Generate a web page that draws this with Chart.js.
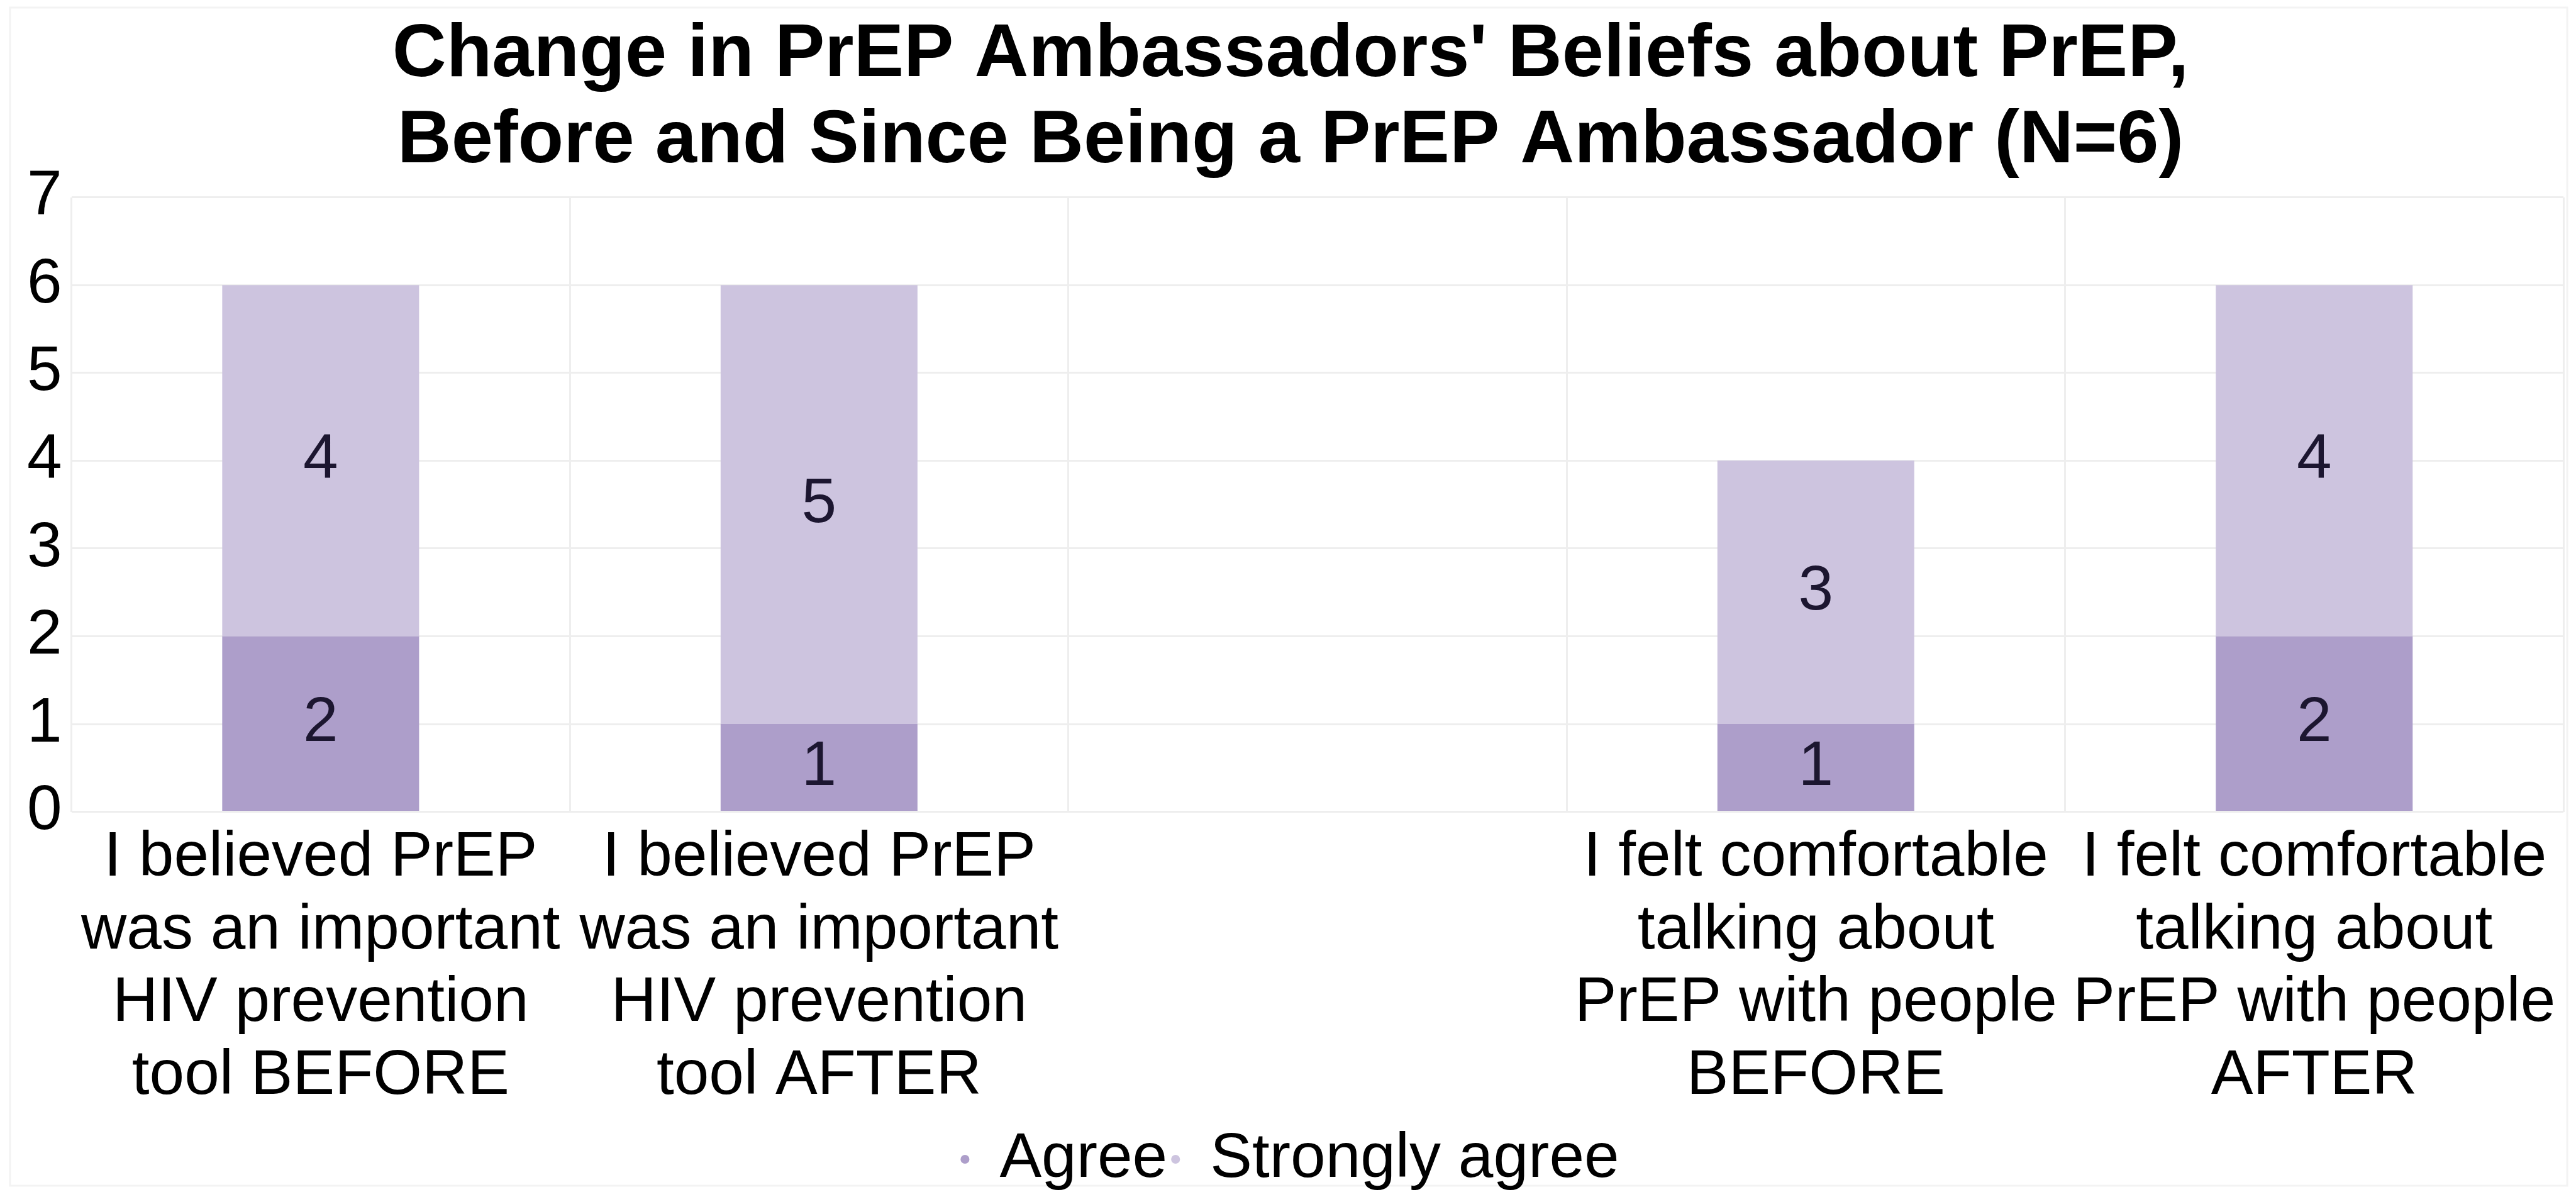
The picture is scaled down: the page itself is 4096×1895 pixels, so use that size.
<!DOCTYPE html>
<html>
<head>
<meta charset="utf-8">
<script src="https://cdn.jsdelivr.net/npm/chart.js@4.4.1/dist/chart.umd.min.js"></script>
<style>
  html, body { margin: 0; padding: 0; background: #ffffff; }
  #wrap { width: 4096px; height: 1895px; position: relative; }
</style>
</head>
<body>
<div id="wrap"><canvas id="chart"></canvas></div>
<script>
// Survey items (one empty slot separates the two statements)
const categories = [
  ["I believed PrEP", "was an important", "HIV prevention", "tool BEFORE"],
  ["I believed PrEP", "was an important", "HIV prevention", "tool AFTER"],
  "",
  ["I felt comfortable", "talking about", "PrEP with people", "BEFORE"],
  ["I felt comfortable", "talking about", "PrEP with people", "AFTER"]
];
const seriesNames = ["Agree", "Strongly agree"];
const agreeCounts = [2, 1, null, 1, 2];
const stronglyAgreeCounts = [4, 5, null, 3, 4];
const yTicks = [0, 1, 2, 3, 4, 5, 6, 7];

const FONT = '"Liberation Sans", Arial, Helvetica, sans-serif';

// white page with a faint outer frame
const backdrop = {
  id: 'backdrop',
  beforeDraw(chart) {
    const { ctx, width, height } = chart;
    ctx.save();
    ctx.fillStyle = '#ffffff';
    ctx.fillRect(0, 0, width, height);
    ctx.strokeStyle = '#f3f3f3';
    ctx.lineWidth = 3;
    ctx.strokeRect(16, 12, width - 30, height - 22);
    ctx.restore();
  }
};

// count printed in the middle of each stacked segment
const segmentLabels = {
  id: 'segmentLabels',
  afterDatasetsDraw(chart) {
    const { ctx } = chart;
    ctx.save();
    ctx.font = '100px ' + FONT;
    ctx.fillStyle = '#1c1630';
    ctx.textAlign = 'center';
    ctx.textBaseline = 'middle';
    chart.data.datasets.forEach((ds, i) => {
      const meta = chart.getDatasetMeta(i);
      if (meta.hidden) return;
      meta.data.forEach((bar, j) => {
        const v = ds.data[j];
        if (v === null || v === undefined) return;
        const p = bar.getProps(['x', 'y', 'base'], true);
        ctx.fillText(String(v), p.x, (p.y + p.base) / 2);
      });
    });
    ctx.restore();
  }
};

new Chart(document.getElementById('chart'), {
  type: 'bar',
  data: {
    labels: categories,
    datasets: [
      {
        label: seriesNames[0],
        data: agreeCounts,
        backgroundColor: '#ad9eca',
        borderWidth: 0,
        categoryPercentage: 1,
        barPercentage: 0.395
      },
      {
        label: seriesNames[1],
        data: stronglyAgreeCounts,
        backgroundColor: '#cdc4df',
        borderWidth: 0,
        categoryPercentage: 1,
        barPercentage: 0.395
      }
    ]
  },
  options: {
    responsive: true,
    maintainAspectRatio: false,
    devicePixelRatio: 1,
    animation: false,
    layout: { padding: { left: 28, right: 20, top: 0, bottom: -8 } },
    plugins: {
      title: {
        display: true,
        text: [
          "Change in PrEP Ambassadors' Beliefs about PrEP,",
          "Before and Since Being a PrEP Ambassador (N=6)"
        ],
        color: '#000000',
        font: { family: FONT, size: 119, weight: 'bold', lineHeight: 1.15 },
        padding: { top: 20, bottom: 20 }
      },
      legend: {
        position: 'bottom',
        labels: {
          usePointStyle: true,
          pointStyle: 'circle',
          boxWidth: 10,
          boxHeight: 10,
          padding: 8,
          color: '#000000',
          font: { family: FONT, size: 100 }
        }
      },
      tooltip: { enabled: false }
    },
    scales: {
      x: {
        stacked: true,
        offset: true,
        border: { display: false },
        grid: { color: '#eeeeee', lineWidth: 3, offset: true, drawTicks: false },
        ticks: {
          color: '#000000',
          padding: 16,
          maxRotation: 0,
          minRotation: 0,
          autoSkip: false,
          font: { family: FONT, size: 100, lineHeight: 1.156 }
        }
      },
      y: {
        stacked: true,
        min: 0,
        max: 7,
        border: { display: false },
        grid: { color: '#eeeeee', lineWidth: 3, drawTicks: false },
        afterBuildTicks(scale) {
          scale.ticks = yTicks.map(v => ({ value: v }));
        },
        ticks: {
          color: '#000000',
          padding: 15,
          font: { family: FONT, size: 100, lineHeight: 1.2 }
        }
      }
    }
  },
  plugins: [backdrop, segmentLabels]
});
</script>
</body>
</html>
